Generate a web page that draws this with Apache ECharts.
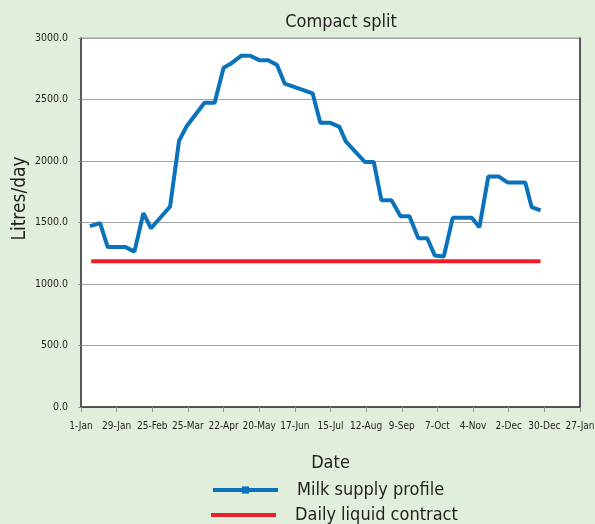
<!DOCTYPE html>
<html>
<head>
<meta charset="utf-8">
<script src="https://cdn.jsdelivr.net/npm/echarts@6/dist/echarts.min.js"></script>
<style>
  html, body { margin: 0; padding: 0; background: #e1eedb; }
  #main { width: 595px; height: 524px; }
</style>
</head>
<body>
<div id="main"></div>
<script>
// x positions are days since 1-Jan
var tickLabels = ['1-Jan', '29-Jan', '25-Feb', '25-Mar', '22-Apr', '20-May', '17-Jun', '15-Jul',
  '12-Aug', '9-Sep', '7-Oct', '4-Nov', '2-Dec', '30-Dec', '27-Jan'];

var supplyDays = [7, 15, 21, 35, 42, 49, 55, 70, 77, 83, 97, 105, 112, 118, 126, 133, 140, 147, 154, 160,
  182, 188, 196, 203, 208, 223, 230, 236, 244, 251, 258, 265, 272, 278, 285, 292, 307, 313, 320, 328, 335, 349, 354, 361];
var supplyValues = [1470, 1495, 1300, 1300, 1263, 1576, 1453, 1630, 2163, 2283, 2473, 2473, 2758, 2793, 2856, 2856, 2820, 2820, 2780, 2630,
  2549, 2310, 2310, 2277, 2160, 1992, 1992, 1680, 1680, 1551, 1551, 1372, 1372, 1231, 1223, 1538, 1538, 1462, 1875, 1875, 1826, 1826, 1625, 1598];

var contractDays = [8, 361];
var contractValues = [1185, 1185];

var font = "'DejaVu Sans Condensed', sans-serif";
var ink = '#231f20';

var myChart = echarts.init(document.getElementById('main'));

var option = {
    backgroundColor: '#e1eedb',
    textStyle: { fontFamily: font },
    title: {
        text: 'Compact split',
        left: 336,
        top: 8,
        textAlign: 'center',
        textStyle: { fontFamily: font, fontSize: 18, fontWeight: 'normal', color: ink }
    },
    legend: [{
        left: 206,
        top: 476,
        itemWidth: 65,
        itemHeight: 9,
        lineStyle: { width: 4 },
        textStyle: { fontFamily: font, fontSize: 18, color: ink, padding: [0, 0, 0, 14] },
        data: ['Milk supply profile']
    }, {
        left: 206,
        top: 501,
        itemWidth: 65,
        itemHeight: 4,
        textStyle: { fontFamily: font, fontSize: 18, color: ink, padding: [0, 0, 0, 14] },
        data: [{ name: 'Daily liquid contract', icon: 'rect' }]
    }],
    grid: {
        left: 81, right: 15, top: 38, bottom: 117,
        containLabel: false,
        outerBoundsMode: 'none',
        show: true,
        backgroundColor: '#ffffff',
        borderColor: '#9a9a9a',
        borderWidth: 1
    },
    xAxis: {
        type: 'value',
        min: 0,
        max: 392,
        interval: 28,
        name: 'Date',
        nameLocation: 'middle',
        nameGap: 47,
        nameTextStyle: { fontFamily: font, fontSize: 18, color: ink },
        axisLine: { lineStyle: { color: '#333', width: 1.5 } },
        axisTick: { show: true, length: 5, lineStyle: { color: '#999' } },
        axisLabel: {
            fontFamily: font, fontSize: 10, color: ink, margin: 14,
            showMinLabel: true, showMaxLabel: true, hideOverlap: false,
            formatter: function (v) { return tickLabels[Math.round(v / 28)]; }
        },
        splitLine: { show: false }
    },
    yAxis: [{
        type: 'value',
        min: 0,
        max: 3000,
        interval: 500,
        name: 'Litres/day',
        nameLocation: 'middle',
        nameGap: 51,
        nameMoveOverlap: false,
        nameTextStyle: { fontFamily: font, fontSize: 19, color: ink, padding: [0, 0, 0, 48] },
        axisLine: { show: true, lineStyle: { color: '#333', width: 1.5 } },
        axisTick: { show: true, length: 3, lineStyle: { color: '#999' } },
        axisLabel: {
            fontFamily: font, fontSize: 10.5, color: ink, margin: 13,
            padding: [0, 0, 8, 0],
            formatter: function (v) { return v.toFixed(1); }
        },
        splitLine: { lineStyle: { color: '#a6a6a6', width: 1 } }
    }, {
        type: 'value',
        min: 0,
        max: 3000,
        interval: 500,
        position: 'right',
        axisLine: { show: true, lineStyle: { color: '#333', width: 1.5 } },
        axisTick: { show: false },
        axisLabel: { show: false },
        splitLine: { show: false }
    }],
    series: [{
        name: 'Milk supply profile',
        type: 'line',
        data: supplyDays.map(function (d, i) { return [d, supplyValues[i]]; }),
        symbol: 'rect',
        showSymbol: false,
        lineStyle: { color: '#0a72bb', width: 4 },
        itemStyle: { color: '#0a72bb' },
        emphasis: { disabled: true }
    }, {
        name: 'Daily liquid contract',
        type: 'line',
        data: contractDays.map(function (d, i) { return [d, contractValues[i]]; }),
        symbol: 'none',
        lineStyle: { color: '#ee1f26', width: 4 },
        itemStyle: { color: '#ee1f26' },
        emphasis: { disabled: true }
    }]
};

myChart.setOption(option);
</script>
</body>
</html>
